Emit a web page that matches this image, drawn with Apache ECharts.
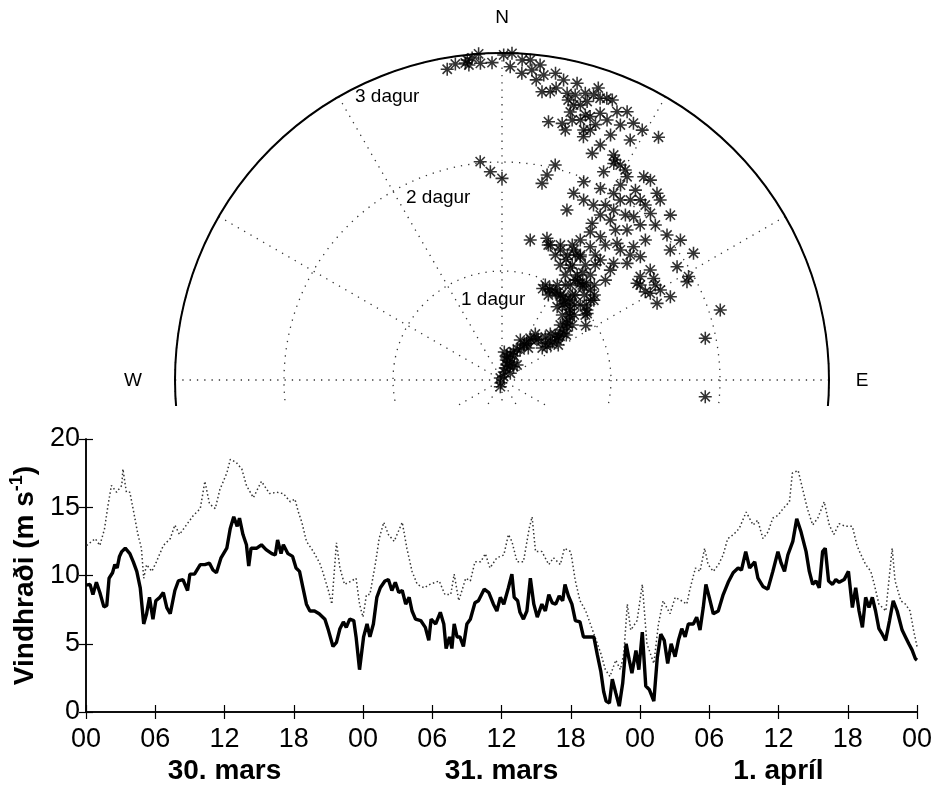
<!DOCTYPE html>
<html>
<head>
<meta charset="utf-8">
<script src="https://cdn.jsdelivr.net/npm/echarts@6/dist/echarts.min.js"></script>
<style>
html,body{margin:0;padding:0;background:#fff;}
#c{width:938px;height:785px;}
</style>
</head>
<body>
<div id="c"></div>
<script>
// ---- data: trajectory (radius = days, angle = direction in degrees, clockwise from N)
const trackPoints = [
[0.024,320],[0.03,200],[0.034,26],[0.063,194],[0.076,16],[0.098,51],[0.114,15.4],[0.145,18],[0.145,27.5],
[0.162,41],[0.188,12.1],[0.19,29.8],[0.195,45],[0.207,13],[0.219,12],[0.247,27.1],[0.25,17.7],[0.258,4.7],
[0.281,22],[0.317,26.3],[0.322,31],[0.377,32],[0.38,39.4],[0.388,31.8],[0.404,24.6],[0.407,34],
[0.455,36.2],[0.462,34],[0.472,51.5],[0.488,41],[0.502,41.5],[0.514,53.5],[0.521,35.9],[0.523,49.5],
[0.557,53],[0.56,45.2],[0.578,53],[0.608,58.1],[0.612,46.4],[0.624,54],[0.64,49.8],[0.65,52.6],
[0.666,53],[0.709,53],[0.719,50.3],[0.72,55],[0.735,46.7],[0.771,51],[0.791,49],[0.794,47.9],
[0.813,42.9],[0.819,52],[0.841,37],[0.854,47],[0.865,45.6],[0.883,38.8],[0.888,28.6],[0.892,48],
[0.897,44],[0.903,39],[0.916,57],[0.918,24],[0.918,42.3],[0.936,38.4],[0.937,28],[0.938,34.8],
[0.941,27.5],[0.942,32],[0.944,31.2],[0.946,34.4],[0.95,36.5],[0.956,44],[0.958,24.5],[0.965,40.5],
[0.969,52],[0.991,52],[0.995,46.2],[1.008,30.2],[1.01,50.5],[1.012,39.6],[1.03,40.8],[1.035,48.3],
[1.048,33.7],[1.073,35.7],[1.085,44.1],[1.093,48],[1.116,49],[1.125,31.1],[1.137,41],[1.138,36.2],
[1.141,40.2],[1.142,39],[1.147,37],[1.151,47.4],[1.157,44.5],[1.181,41],[1.183,26.9],[1.185,35.6],
[1.204,31.4],[1.215,44.2],[1.232,37],[1.237,31.4],[1.247,23.1],[1.252,28],[1.259,40.1],[1.294,27.6],
[1.303,35.9],[1.307,24.2],[1.309,18.9],[1.31,11.4],[1.316,19.7],[1.319,46],[1.329,30.4],[1.34,32.4],
[1.349,23.4],[1.353,32.1],[1.359,39],[1.362,28.9],[1.364,17.6],[1.396,27.5],[1.416,44.6],[1.423,39.3],
[1.431,36.7],[1.467,33.5],[1.472,29.2],[1.482,43.7],[1.524,54.4],[1.539,55.5],[1.543,58.4],[1.56,37.4],
[1.569,47],[1.576,59.7],[1.581,30.8],[1.584,53.2],[1.587,63.7],[1.594,34.5],[1.613,42.3],[1.639,40.1],
[1.643,45.7],[1.655,58.2],[1.658,29.9],[1.67,20.9],[1.671,60.4],[1.675,56.2],[1.694,53.4],[1.7,48.3],
[1.718,44.6],[1.723,63.7],[1.725,37.1],[1.762,30.8],[1.773,34.1],[1.792,39.8],[1.812,27.6],[1.813,24.4],
[1.835,21.0],[1.838,45.7],[1.841,11.5],[1.85,0],[1.864,30.6],[1.866,33.3],[1.871,94.7],[1.89,36.8],
[1.904,78.4],[1.906,41.7],[1.913,57.1],[1.914,356.8],[1.922,62.0],[1.924,38.9],[1.926,12.4],
[1.951,52.3],[1.957,61.0],[1.967,22.4],[1.976,27.2],[1.976,33.3],[1.995,30.9],[2.0,44.7],[2.013,354.3],
[2.015,48.7],[2.028,35.5],[2.032,13.9],[2.047,41.7],[2.075,39.3],[2.08,51.9],[2.083,37.5],[2.093,31.3],
[2.103,72.2],[2.107,56.5],[2.126,26.0],[2.129,35.1],[2.162,45.6],[2.19,31.6],[2.199,41.3],[2.226,39.7],
[2.234,30.4],[2.236,27.3],[2.238,21.7],[2.251,28.8],[2.27,27.2],[2.273,34.9],[2.284,36.6],[2.304,26.4],
[2.337,22.7],[2.354,18.5],[2.366,14.2],[2.408,10.2],[2.413,18.1],[2.418,13.2],[2.432,19.45],[2.458,23.9],
[2.47,15.1],[2.491,16.8],[2.495,20.1],[2.497,28.1],[2.537,14.3],[2.548,18.5],[2.549,17.45],[2.573,22.0],
[2.579,24.9],[2.607,14.6],[2.608,20.2],[2.623,15.9],[2.629,29.3],[2.64,13.3],[2.647,27.1],[2.65,32.8],
[2.67,7.9],[2.672,17.0],[2.678,23.2],[2.682,9.5],[2.697,12.8],[2.7,14.4],[2.716,25.0],[2.725,10.5],
[2.737,19.2],[2.739,16.2],[2.747,17.8],[2.758,20.4],[2.761,21.5],[2.771,6.5],[2.808,14.2],[2.81,11.6],
[2.82,3.7],[2.821,18.25],[2.824,7.8],[2.856,9.9],[2.857,5.5],[2.875,1.5],[2.895,350.0],[2.906,354.0],
[2.911,6.9],[2.912,356.1],[2.913,358.2],[2.928,353.4],[2.93,351.6],[2.941,3.6],[2.947,5.05],
[2.953,353.8],[2.967,354.7],[2.982,0.3],[2.998,1.75],[3.0,355.9]
];
const ringLabels = ['1 dagur','2 dagur','3 dagur'];
const compassLabels = ['N','W','E'];

// ---- data: wind speed (hours from 00 on 30 March, m/s)
const meanWind = [
[0,9.3],[0.35,9.35],[0.6,8.6],[0.9,9.5],[1.2,8.75],[1.55,7.7],[1.8,7.8],[2.0,9.8],[2.3,10.2],[2.5,10.8],
[2.7,10.55],[2.9,11.4],[3.1,11.75],[3.4,12.0],[3.8,11.6],[4.1,11.0],[4.4,10.3],[4.7,9.1],[5.0,6.45],
[5.25,7.2],[5.5,8.4],[5.8,6.8],[6.05,8.15],[6.4,8.4],[6.7,8.75],[7.0,7.65],[7.3,7.2],[7.7,8.9],[8.0,9.6],
[8.4,9.7],[8.8,8.9],[9.0,10.1],[9.4,10.1],[9.9,10.8],[10.3,10.8],[10.7,10.9],[11.0,10.4],[11.3,10.2],
[11.7,11.3],[12.2,12.0],[12.5,13.45],[12.8,14.3],[13.1,13.6],[13.3,14.2],[13.6,13.0],[13.9,12.25],
[14.1,10.7],[14.3,12.0],[14.8,12.0],[15.2,12.25],[15.6,11.9],[16.1,11.6],[16.4,11.5],[16.6,12.6],
[16.9,11.6],[17.1,12.25],[17.5,11.6],[17.9,11.4],[18.2,10.55],[18.5,10.3],[18.8,9.1],[19.1,7.9],
[19.4,7.4],[19.8,7.4],[20.2,7.2],[20.7,6.8],[21.0,6.0],[21.4,4.8],[21.7,5.1],[22.0,6.1],[22.3,6.6],
[22.55,6.2],[22.85,6.8],[23.2,6.7],[23.4,5.5],[23.7,3.1],[24.05,5.5],[24.35,6.45],[24.6,5.5],[24.9,6.45],
[25.2,8.4],[25.5,9.1],[25.9,9.6],[26.2,9.7],[26.5,8.9],[26.8,9.5],[27.1,8.75],[27.4,8.9],[27.7,7.9],
[28.0,8.4],[28.25,7.4],[28.55,6.8],[29.0,6.7],[29.4,6.2],[29.7,5.25],[29.9,6.8],[30.3,6.45],[30.7,7.3],
[31.0,6.45],[31.2,4.65],[31.5,5.5],[31.7,4.65],[31.9,6.45],[32.15,5.5],[32.4,5.5],[32.7,4.8],[33.0,6.45],
[33.3,6.8],[33.7,8.0],[34.0,8.15],[34.5,9.0],[34.9,8.75],[35.3,7.9],[35.6,7.4],[35.9,8.4],[36.2,7.9],
[36.6,9.1],[36.9,10.1],[37.1,8.4],[37.4,8.15],[37.6,7.3],[37.9,6.8],[38.2,7.4],[38.5,9.8],[38.8,7.9],
[39.1,6.95],[39.5,7.9],[39.8,7.4],[40.1,8.6],[40.4,8.0],[40.7,7.9],[41.0,8.5],[41.3,8.15],[41.5,9.35],
[41.8,8.5],[42.1,7.9],[42.4,6.7],[42.8,6.6],[43.1,5.5],[43.6,5.5],[44.0,5.5],[44.3,4.2],[44.6,3.0],
[44.85,1.5],[45.06,0.8],[45.35,0.65],[45.6,2.4],[45.9,1.4],[46.2,0.43],[46.5,2.1],[46.8,5.0],[47.07,3.8],
[47.3,2.85],[47.65,4.5],[47.9,3.1],[48.2,5.85],[48.5,1.9],[48.8,1.65],[49.2,0.8],[49.5,4.0],[49.8,5.7],
[50.1,5.25],[50.4,3.55],[50.7,5.0],[51.04,4.05],[51.33,5.25],[51.62,6.1],[51.91,5.5],[52.19,6.45],
[52.62,6.45],[52.91,6.95],[53.2,6.0],[53.48,7.65],[53.71,9.35],[54.0,8.4],[54.35,7.2],[54.78,7.4],
[55.21,8.6],[55.64,9.5],[56.07,10.2],[56.5,10.55],[56.79,10.4],[57.16,11.75],[57.5,10.55],[57.94,11.0],
[58.22,9.8],[58.65,9.2],[59.08,9.0],[59.51,10.3],[59.95,11.75],[60.23,10.9],[60.52,10.3],[60.81,11.5],
[61.24,12.5],[61.58,14.15],[61.95,13.2],[62.39,11.75],[62.67,10.3],[62.96,9.35],[63.25,9.6],[63.53,9.1],
[63.82,11.75],[64.05,12.0],[64.34,9.6],[64.68,9.35],[64.97,9.7],[65.26,9.5],[65.69,9.7],[66.06,10.3],
[66.4,7.65],[66.69,9.1],[66.98,7.4],[67.27,6.2],[67.55,8.4],[67.84,7.65],[68.13,8.4],[68.41,7.4],
[68.7,6.1],[68.99,5.7],[69.28,5.25],[69.62,6.7],[69.94,8.15],[70.28,7.4],[70.71,6.0],[71.0,5.5],
[71.29,5.0],[71.57,4.55],[71.86,3.9],[72.0,3.8]
];
const gustWind = [
[0.05,12.2],[0.8,12.7],[1.2,12.2],[1.6,13.4],[1.9,15.1],[2.2,16.6],[2.65,16.1],[3.1,16.6],[3.2,17.8],
[3.5,16.1],[3.8,16.1],[4.1,14.8],[4.5,13.0],[4.8,12.0],[5.0,9.8],[5.25,10.8],[5.7,10.3],[6.1,11.0],
[6.7,12.2],[7.3,12.7],[7.7,13.7],[8.1,13.0],[8.7,13.7],[9.3,14.4],[9.9,14.9],[10.3,16.9],[10.7,15.25],
[11.2,14.9],[11.6,16.3],[12.2,17.5],[12.5,18.5],[13.0,18.3],[13.5,17.8],[13.9,16.6],[14.5,15.7],
[15.2,16.9],[15.9,16.0],[16.5,16.1],[17.1,16.0],[17.7,15.4],[18.1,15.6],[18.4,14.65],[18.7,13.9],
[19.1,12.5],[19.7,11.75],[20.25,10.9],[20.5,10.3],[21.0,8.9],[21.3,7.9],[21.7,12.4],[22.0,10.55],
[22.4,9.35],[23.0,9.6],[23.4,9.8],[23.7,7.9],[24.0,6.95],[24.3,8.6],[24.6,8.6],[25.1,11.0],[25.4,12.7],
[25.8,13.9],[26.2,13.0],[26.7,12.5],[27.4,13.9],[27.8,12.0],[28.25,10.3],[28.7,9.35],[29.3,9.1],
[29.8,9.35],[30.6,9.6],[31.1,8.6],[31.6,8.6],[31.9,10.1],[32.3,8.15],[32.9,9.8],[33.3,9.6],[33.7,11.0],
[34.2,11.0],[34.6,11.6],[35.0,10.55],[35.6,11.3],[36.2,11.5],[36.6,13.0],[36.9,12.5],[37.35,11.0],
[37.9,11.0],[38.4,13.45],[38.65,14.3],[38.95,11.75],[39.5,11.75],[40.1,10.8],[40.5,11.3],[41.1,10.8],
[41.45,12.0],[42.0,11.75],[42.4,9.6],[42.8,8.15],[43.3,7.4],[43.7,6.45],[44.1,5.5],[44.6,4.3],[45.0,3.1],
[45.4,2.6],[45.9,3.8],[46.3,3.1],[46.6,4.3],[46.9,7.9],[47.2,6.0],[47.75,6.7],[48.2,9.35],[48.6,5.0],
[49.2,3.55],[49.6,6.45],[50.0,8.15],[50.6,7.2],[51.05,8.4],[51.6,8.15],[52.05,7.9],[52.3,8.9],
[52.8,10.55],[53.2,10.3],[53.6,12.0],[53.9,10.8],[54.35,10.3],[54.8,10.8],[55.2,11.5],[55.6,12.7],
[56.1,13.0],[56.6,13.45],[57.2,14.65],[57.8,13.7],[58.2,14.05],[58.65,12.7],[59.1,13.2],[59.5,14.2],
[59.95,14.4],[60.4,14.9],[60.95,15.4],[61.2,17.5],[61.7,17.7],[62.1,16.3],[62.5,14.9],[62.96,13.7],
[63.4,14.2],[63.96,15.4],[64.4,13.7],[64.8,13.0],[65.25,13.8],[65.8,13.6],[66.4,13.6],[66.8,12.2],
[67.1,11.6],[67.55,10.8],[68.0,10.3],[68.3,9.35],[68.7,7.9],[69.3,7.4],[69.85,12.0],[70.1,9.6],
[70.6,8.15],[71.0,7.9],[71.4,7.4],[71.7,6.0],[72.0,4.8]
];
const dayLabels = ['30. mars','31. mars','1. apríl'];
const yName = 'Vindhraði (m s';

const FONT = "'Liberation Sans', Arial, Helvetica, sans-serif";
const STAR = 'path://M8.8 0L11.2 0L11.2 20L8.8 20Z M0 8.8L20 8.8L20 11.2L0 11.2Z M2 3.7L3.7 2L18 16.3L16.3 18Z M16.3 2L18 3.7L3.7 18L2 16.3Z';
const dotted = {color:'#333', width:1.3, type:[1.3,6]};

const chart = echarts.init(document.getElementById('c'), null, {renderer:'canvas'});
const pad = v => { const h = Math.round(v) % 24; return (h < 10 ? '0' : '') + h; };

chart.setOption({
  backgroundColor:'#fff',
  animation:false,
  polar:{center:[502,380], radius:327},
  angleAxis:{
    type:'value', min:0, max:360, interval:30, startAngle:90, clockwise:true, z:0,
    axisLine:{show:true, lineStyle:{color:'#000', width:2}},
    axisTick:{show:false}, axisLabel:{show:false},
    splitLine:{show:true, lineStyle:dotted}
  },
  radiusAxis:{
    type:'value', min:0, max:3, interval:1, z:0,
    axisLine:{show:false}, axisTick:{show:false}, axisLabel:{show:false},
    splitLine:{show:true, lineStyle:dotted}
  },
  grid:{left:86, top:439, width:831, height:277, z:10},
  xAxis:[
    {type:'value', gridIndex:0, min:0, max:72, interval:6, position:'bottom', z:10,
     axisLine:{lineStyle:{color:'#000', width:1.5}},
     axisTick:{inside:true, length:7, lineStyle:{color:'#000', width:1.2}},
     axisLabel:{color:'#000', fontSize:27, fontFamily:FONT, margin:14, formatter:pad},
     splitLine:{show:false}},
    {type:'value', gridIndex:0, min:0, max:72, interval:6, position:'top', z:10,
     axisLine:{lineStyle:{color:'#000', width:1.5}},
     axisTick:{inside:true, length:7, lineStyle:{color:'#000', width:1.2}},
     axisLabel:{show:false}, splitLine:{show:false}},
    {type:'category', gridIndex:0, data:dayLabels, position:'bottom', z:10,
     axisLine:{show:false}, axisTick:{show:false},
     axisLabel:{color:'#000', fontSize:28, fontWeight:'bold', fontFamily:FONT, margin:45, interval:0},
     splitLine:{show:false}}
  ],
  yAxis:[
    {type:'value', gridIndex:0, min:0, max:20, interval:5, position:'left', z:10,
     axisLine:{lineStyle:{color:'#000', width:1.5}},
     axisTick:{inside:true, length:7, lineStyle:{color:'#000', width:1.2}},
     axisLabel:{color:'#000', fontSize:27, fontFamily:FONT, margin:6},
     splitLine:{show:false},
     name:'{t|' + yName + '}{s|-1}{t|)}', nameLocation:'middle', nameGap:40, nameRotate:90,
     nameTextStyle:{rich:{
       t:{fontSize:28, fontWeight:'bold', fontFamily:FONT, color:'#000', lineHeight:34},
       s:{fontSize:18, fontWeight:'bold', fontFamily:FONT, color:'#000', verticalAlign:'top', lineHeight:34}
     }}},
    {type:'value', gridIndex:0, min:0, max:20, interval:5, position:'right', z:10,
     axisLine:{lineStyle:{color:'#000', width:1.5}},
     axisTick:{inside:true, length:7, lineStyle:{color:'#000', width:1.2}},
     axisLabel:{show:false}, splitLine:{show:false}}
  ],
  graphic:[
    {type:'rect', z:5, silent:true, shape:{x:0, y:406, width:938, height:379}, style:{fill:'#fff'}},
    {type:'text', z:20, x:502, y:18, style:{text:compassLabels[0], font:'19px ' + FONT, fill:'#000', textAlign:'center', textVerticalAlign:'middle'}},
    {type:'text', z:20, x:133, y:381, style:{text:compassLabels[1], font:'19px ' + FONT, fill:'#000', textAlign:'center', textVerticalAlign:'middle'}},
    {type:'text', z:20, x:862, y:381, style:{text:compassLabels[2], font:'19px ' + FONT, fill:'#000', textAlign:'center', textVerticalAlign:'middle'}},
    {type:'text', z:20, x:461, y:300, style:{text:ringLabels[0], font:'19px ' + FONT, fill:'#000', textAlign:'left', textVerticalAlign:'middle'}},
    {type:'text', z:20, x:406, y:198, style:{text:ringLabels[1], font:'19px ' + FONT, fill:'#000', textAlign:'left', textVerticalAlign:'middle'}},
    {type:'text', z:20, x:355, y:97, style:{text:ringLabels[2], font:'19px ' + FONT, fill:'#000', textAlign:'left', textVerticalAlign:'middle'}}
  ],
  series:[
    {type:'scatter', coordinateSystem:'polar', z:2, data:trackPoints,
     symbol:STAR, symbolSize:13, itemStyle:{color:'#000'}, silent:true},
    {type:'line', xAxisIndex:0, yAxisIndex:0, z:10, data:gustWind, showSymbol:false, silent:true,
     lineStyle:{color:'#333', width:1.5, type:[1.5,2.5]}},
    {type:'line', xAxisIndex:0, yAxisIndex:0, z:11, data:meanWind, showSymbol:false, silent:true,
     lineStyle:{color:'#000', width:3.4}}
  ]
});
</script>
</body>
</html>
